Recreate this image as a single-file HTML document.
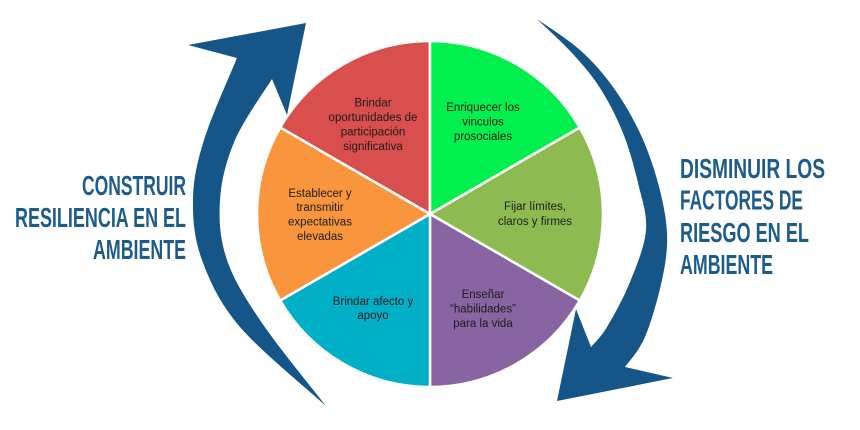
<!DOCTYPE html>
<html>
<head>
<meta charset="utf-8">
<style>
  html, body { margin: 0; padding: 0; background: #ffffff; }
  body { width: 860px; height: 430px; overflow: hidden; }
  svg { display: block; }
  .lbl { font-family: "Liberation Sans", Arial, sans-serif; font-size: 11.5px; fill: #1c1c1c; text-anchor: middle; }
  .hd { font-family: "Liberation Sans", Arial, sans-serif; font-size: 28px; font-weight: bold; fill: #1d5b8b; }
</style>
</head>
<body>
<svg width="860" height="430" viewBox="0 0 860 430" xmlns="http://www.w3.org/2000/svg">
  <rect width="860" height="430" fill="#ffffff"/>

  <!-- Left arrow (up, clockwise) -->
  <path fill="#155587" d="
    M326,406
    C311.7,392.8 260.7,351.3 240,327
    C219.3,302.7 209.8,281.2 202,260
    C194.2,238.8 192.7,220 193,200
    C193.3,180 196.7,163.7 204,140
    C211.3,116.3 231.5,71.7 237,58
    L188,45 L306,23 L287,115 L272,79
    C265.8,89.2 243.7,119.8 235,140
    C226.3,160.2 221.3,180 220,200
    C218.7,220 220,239.5 227,260
    C234,280.5 245.5,298.7 262,323
    C278.5,347.3 315.3,392.2 326,406 Z"/>

  <!-- Right arrow (down, clockwise) -->
  <path fill="#155587" d="
    M537,19
    C544.2,24.2 567.3,38.7 580,50
    C592.7,61.3 603,73.2 613,87
    C623,100.8 632.5,117 640,133
    C647.5,149 653.5,166.3 658,183
    C662.5,199.7 666.3,216.8 667,233
    C667.7,249.2 665.7,262.7 662,280
    C658.3,297.3 651.2,322.5 645,337
    C638.8,351.5 628.3,362 625,367
    L673,378 L557,401 L576,309 L591,347
    C593.7,343.7 600.5,337.8 607,327
    C613.5,316.2 623.5,298.2 630,282
    C636.5,265.8 644.7,246.5 646,230
    C647.3,213.5 641.8,199.2 638,183
    C634.2,166.8 629.3,148.8 623,133
    C616.7,117.2 608.5,101.3 600,88
    C591.5,74.7 582.5,64.5 572,53
    C561.5,41.5 542.8,24.7 537,19 Z"/>

  <!-- Pie slices -->
  <g stroke="#ffffff" stroke-width="2.5" stroke-linejoin="round">
    <path fill="#d94f4e" d="M430,214 L280.2,127.5 A173,173 0 0 1 430,41 Z"/>
    <path fill="#02ef4e" d="M430,214 L430,41 A173,173 0 0 1 579.8,127.5 Z"/>
    <path fill="#8dbb51" d="M430,214 L579.8,127.5 A173,173 0 0 1 579.8,300.5 Z"/>
    <path fill="#8864a2" d="M430,214 L579.8,300.5 A173,173 0 0 1 430,387 Z"/>
    <path fill="#01afc7" d="M430,214 L430,387 A173,173 0 0 1 280.2,300.5 Z"/>
    <path fill="#f9963d" d="M430,214 L280.2,300.5 A173,173 0 0 1 280.2,127.5 Z"/>
  </g>

  <!-- Slice labels -->
  <g>
    <text class="lbl" x="373" y="106.5">Brindar</text>
    <text class="lbl" x="373" y="121">oportunidades de</text>
    <text class="lbl" x="373" y="135.5">participación</text>
    <text class="lbl" x="373" y="150">significativa</text>

    <text class="lbl" x="483" y="111">Enriquecer los</text>
    <text class="lbl" x="483" y="125.5">vinculos</text>
    <text class="lbl" x="483" y="140">prosociales</text>

    <text class="lbl" x="535" y="210">Fijar límites,</text>
    <text class="lbl" x="535" y="225">claros y firmes</text>

    <text class="lbl" x="483" y="298">Enseñar</text>
    <text class="lbl" x="483" y="312.5">“habilidades”</text>
    <text class="lbl" x="483" y="327">para la vida</text>

    <text class="lbl" x="373" y="305">Brindar afecto y</text>
    <text class="lbl" x="373" y="319">apoyo</text>

    <text class="lbl" x="320" y="197">Establecer y</text>
    <text class="lbl" x="320" y="211">transmitir</text>
    <text class="lbl" x="320" y="225.5">expectativas</text>
    <text class="lbl" x="320" y="240">elevadas</text>
  </g>

  <!-- Left heading -->
  <text class="hd" x="82" y="195" textLength="104" lengthAdjust="spacingAndGlyphs">CONSTRUIR</text>
  <text class="hd" x="15" y="227" textLength="171" lengthAdjust="spacingAndGlyphs">RESILIENCIA EN EL</text>
  <text class="hd" x="93" y="259" textLength="93" lengthAdjust="spacingAndGlyphs">AMBIENTE</text>

  <!-- Right heading -->
  <text class="hd" x="680" y="178" textLength="145" lengthAdjust="spacingAndGlyphs">DISMINUIR LOS</text>
  <text class="hd" x="680" y="209.5" textLength="123" lengthAdjust="spacingAndGlyphs">FACTORES DE</text>
  <text class="hd" x="680" y="242" textLength="129" lengthAdjust="spacingAndGlyphs">RIESGO EN EL</text>
  <text class="hd" x="680" y="274" textLength="93" lengthAdjust="spacingAndGlyphs">AMBIENTE</text>
</svg>
</body>
</html>
